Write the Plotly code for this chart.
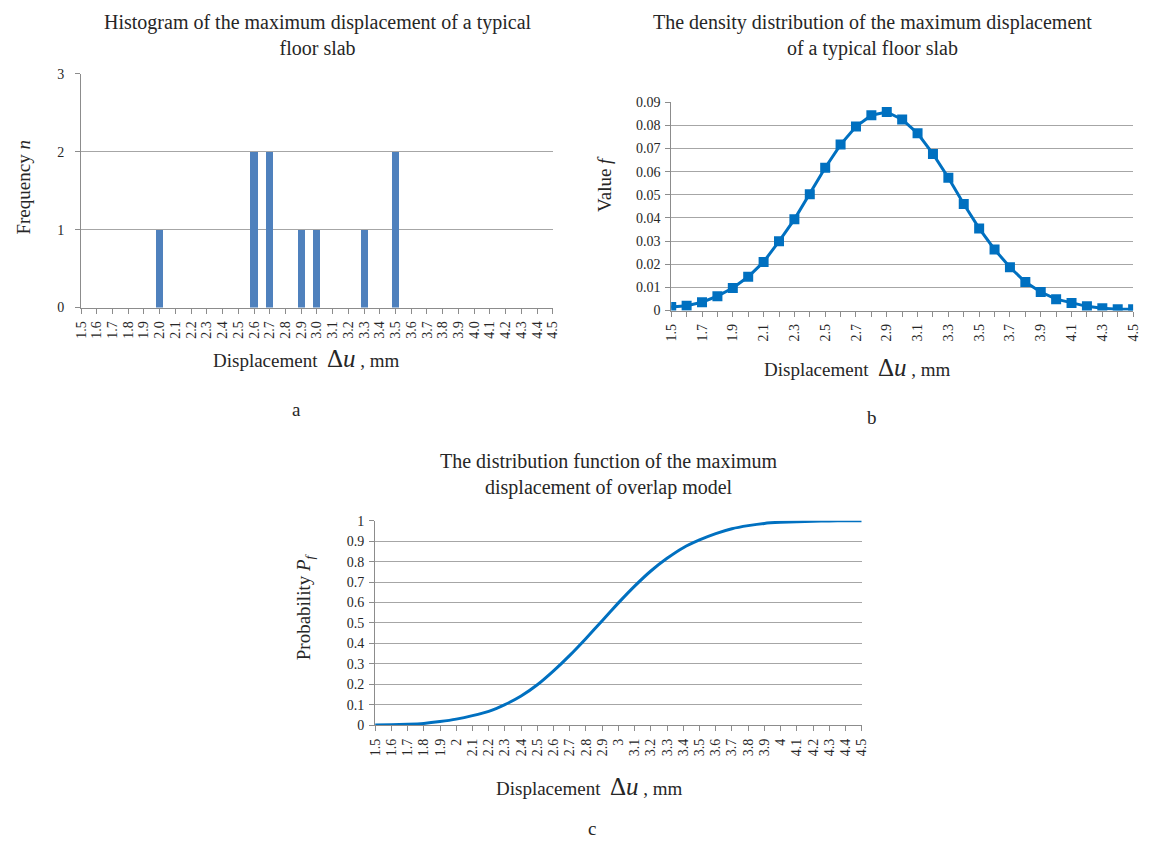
import plotly.graph_objects as go

W, H = 1150, 847

# ---- data ----
hist_x = [2.0, 2.6, 2.7, 2.9, 3.0, 3.3, 3.5]
hist_n = [1, 2, 2, 1, 1, 1, 2]

disp = [1.5, 1.6, 1.7, 1.8, 1.9, 2.0, 2.1, 2.2, 2.3, 2.4, 2.5, 2.6, 2.7, 2.8, 2.9, 3.0,
        3.1, 3.2, 3.3, 3.4, 3.5, 3.6, 3.7, 3.8, 3.9, 4.0, 4.1, 4.2, 4.3, 4.4, 4.5]
density = [0.0015, 0.0021, 0.0036, 0.0062, 0.0097, 0.0146, 0.0210, 0.0299, 0.0394, 0.0503,
           0.0617, 0.0717, 0.0795, 0.0844, 0.0858, 0.0826, 0.0766, 0.0677, 0.0574, 0.0460,
           0.0355, 0.0264, 0.0187, 0.0123, 0.0080, 0.0049, 0.0032, 0.0018, 0.0010, 0.0006, 0.0006]
cdf = [0.000, 0.002, 0.004, 0.008, 0.017, 0.029, 0.046, 0.067, 0.100, 0.142,
       0.197, 0.265, 0.341, 0.424, 0.511, 0.598, 0.680, 0.754, 0.816, 0.868,
       0.906, 0.937, 0.961, 0.976, 0.987, 0.992, 0.995, 0.998, 0.999, 1.000, 1.000]

labels_a = ["%.1f" % v for v in disp]
labels_b = ["%.1f" % v for v in disp[::2]]
labels_c = [("%g" % v) for v in disp]

FONT = "Liberation Serif"
TXT = "#262626"
GRID = "#A6A6A6"
AXL = "#8C8C8C"

def px(x):
    return x / W

def py(y):
    return 1 - y / H

fig = go.Figure()

fig.add_trace(go.Bar(x=hist_x, y=hist_n, width=0.045, marker=dict(color="#4F81BD", line=dict(width=0)),
                     xaxis="x", yaxis="y", showlegend=False))
fig.add_trace(go.Scatter(x=disp, y=density, mode="lines+markers",
                         line=dict(color="#0070C0", width=3),
                         marker=dict(symbol="square", size=10, color="#0070C0"),
                         xaxis="x2", yaxis="y2", showlegend=False))
fig.add_trace(go.Scatter(x=disp, y=cdf, mode="lines",
                         line=dict(color="#0070C0", width=3, shape="spline", smoothing=0.4),
                         xaxis="x3", yaxis="y3", showlegend=False))

tickfont = dict(family=FONT, size=14, color=TXT)

def xax(domain, anchor, tickvals, ticktext, minor=None):
    d = dict(domain=domain, anchor=anchor, range=[1.5, 4.5], tickmode="array",
             tickvals=tickvals, ticktext=ticktext, tickangle=-90, tickfont=tickfont,
             showgrid=False, zeroline=False, showline=True, linecolor=AXL, linewidth=1,
             ticks="outside", ticklen=5, tickcolor=AXL, ticklabelstandoff=2)
    if minor:
        d["minor"] = minor
    return d

def yax(domain, anchor, rng, dtick, standoff=4):
    return dict(domain=domain, anchor=anchor, range=rng, dtick=dtick, tick0=0, tickfont=tickfont,
                showgrid=True, gridcolor=GRID, gridwidth=1, zeroline=False,
                showline=True, linecolor=AXL, linewidth=1, ticks="outside", ticklen=5,
                tickcolor=AXL, ticklabelstandoff=standoff)

fig.update_layout(
    width=W, height=H, paper_bgcolor="white", plot_bgcolor="white",
    margin=dict(l=0, r=0, t=0, b=0), bargap=0,
    xaxis=xax([px(75), px(553)], "y", disp, labels_a),
    yaxis=yax([py(306), py(68)], "x", [0, 3], 1, standoff=8),
    xaxis2=xax([px(673), px(1141)], "y2", disp[::2], labels_b,
               minor=dict(dtick=0.1, tick0=1.5, ticks="outside", ticklen=5, tickcolor=AXL)),
    yaxis2=yax([py(309), py(97)], "x2", [0, 0.09], 0.01, standoff=2),
    xaxis3=xax([px(373), px(866)], "y3", disp, labels_c),
    yaxis3=yax([py(731), py(523)], "x3", [0, 1], 0.1, standoff=2),
)

ann = []
def text(x, y, t, size=20, angle=0):
    ann.append(dict(x=px(x), y=py(y), xref="paper", yref="paper", text=t, showarrow=False,
                    font=dict(family=FONT, size=size, color=TXT), textangle=angle,
                    xanchor="center", yanchor="middle"))

# titles
text(315, 28, "Histogram of the maximum displacement of a typical<br>floor slab", 20)
text(877, 29, "The density distribution of the maximum displacement<br>of a typical floor slab", 20)
text(610, 476, "The distribution function of the maximum<br>displacement of overlap model", 20)

xt = "Displacement  <span style='font-size:25px'>Δ<i>u</i></span> , mm"
text(303, 358, xt, 19)
text(862, 367, xt, 19)
text(590, 794, xt, 19)

text(17, 184, "Frequency <i>n</i>", 19, -90)
text(606, 180, "Value <i>f</i>", 19, -90)
text(302, 611, "Probability <i>P<sub>f</sub></i>", 19, -90)

text(293, 410, "a", 19)
text(876, 418, "b", 19)
text(593, 836, "c", 19)

fig.update_layout(annotations=ann)
fig.write_html("out.html")
